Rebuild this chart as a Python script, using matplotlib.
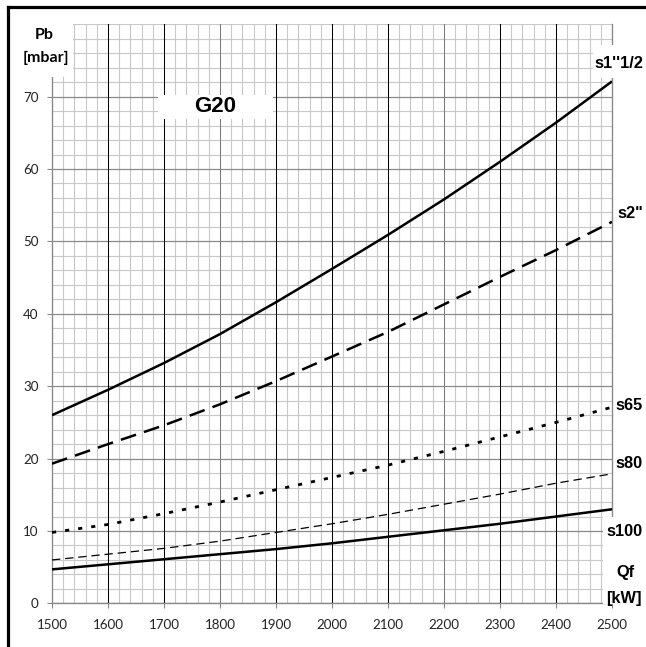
import matplotlib
matplotlib.use("Agg")
import matplotlib.pyplot as plt
from matplotlib.ticker import MultipleLocator, FixedLocator
from matplotlib.patches import Rectangle
from matplotlib.lines import Line2D

plt.rcParams['lines.scale_dashes'] = False

# ---- data ----
qf = [1500, 1600, 1700, 1800, 1900, 2000, 2100, 2200, 2300, 2400, 2500]
s1_12 = [26.0, 29.5, 33.2, 37.2, 41.6, 46.2, 50.9, 55.8, 61.0, 66.4, 72.1]
s2 = [19.3, 22.0, 24.6, 27.5, 30.7, 34.1, 37.5, 41.3, 45.1, 48.8, 52.7]
s65 = [9.8, 10.9, 12.4, 14.0, 15.7, 17.4, 19.1, 21.0, 23.0, 25.0, 27.1]
s80 = [6.0, 6.8, 7.6, 8.6, 9.8, 11.0, 12.3, 13.7, 15.1, 16.6, 17.9]
s100 = [4.7, 5.4, 6.1, 6.8, 7.5, 8.3, 9.2, 10.1, 11.0, 12.0, 13.0]
x_ticks = [1500, 1600, 1700, 1800, 1900, 2000, 2100, 2200, 2300, 2400, 2500]
y_ticks = [0, 10, 20, 30, 40, 50, 60, 70]
series_labels = ["s1''1/2", 's2"', "s65", "s80", "s100"]

W, H = 646, 647
fig = plt.figure(figsize=(W / 100, H / 100), dpi=100)


def fx(px):
    return px / W


def fy(py):
    return 1 - py / H


ax = fig.add_axes([fx(52), fy(603.4), fx(612) - fx(52), fy(24.2) - fy(603.4)])
ax.set_xlim(1500, 2500)
ax.set_ylim(0, 80)

# grids
ax.xaxis.set_major_locator(FixedLocator(x_ticks))
ax.yaxis.set_major_locator(FixedLocator(y_ticks))
ax.xaxis.set_minor_locator(MultipleLocator(20))
ax.yaxis.set_minor_locator(MultipleLocator(2))
ax.grid(which='minor', color='#c8c8c8', linewidth=0.8)
ax.grid(which='major', axis='y', color='#8a8a8a', linewidth=0.9)
for xv in x_ticks[1:-1]:
    col = '#7a7a7a' if xv in (1800, 2200) else '#000000'
    ax.axvline(xv, color=col, linewidth=0.75, zorder=0.9)
ax.set_axisbelow(True)

for side in ['left', 'bottom', 'right']:
    ax.spines[side].set_color('#8a8a8a')
    ax.spines[side].set_linewidth(1.0)
ax.spines['top'].set_visible(False)

ax.tick_params(which='major', length=3.5, color='#8a8a8a', labelsize=9.6,
               labelcolor='#222222')
ax.tick_params(which='minor', length=0)
ax.set_xticklabels([str(v) for v in x_ticks], fontfamily='Lato')
ax.set_yticklabels([str(v) for v in y_ticks], fontfamily='Lato')
ax.tick_params(axis='x', pad=8)
ax.tick_params(axis='y', pad=6)

# curves
ax.plot(qf, s1_12, color='black', linewidth=1.8, solid_capstyle='butt', zorder=3)
ax.plot(qf, s2, color='black', linewidth=1.8, linestyle=(0, (11.5, 6)), zorder=3)
ax.plot(qf, s65, color='black', linewidth=2.0, linestyle=(0, (3.0, 6.5)), zorder=3)
ax.plot(qf, s80, color='black', linewidth=0.9, linestyle=(0, (6, 3.5)), zorder=3)
ax.plot(qf, s100, color='black', linewidth=1.8, zorder=3)

# white cover boxes (figure-level, drawn above axes)
def white_box(x0, y0, x1, y1):
    fig.patches.append(Rectangle((fx(x0), fy(y1)), fx(x1) - fx(x0), fy(y0) - fy(y1),
                                 transform=fig.transFigure, facecolor='white',
                                 edgecolor='none', zorder=1))

white_box(9, 8, 73, 77)
white_box(593, 45, 646, 78)
white_box(603, 517, 646, 604)
white_box(158, 95, 273, 119)

# labels
lab = dict(transform=fig.transFigure, fontfamily='Liberation Sans',
           fontweight='bold', fontsize=11.8, va='center', zorder=4)
fig.text(fx(643), fy(63), series_labels[0], ha='right', **lab)
fig.text(fx(643), fy(213), series_labels[1], ha='right', **lab)
fig.text(fx(643), fy(406), series_labels[2], ha='right', **lab)
fig.text(fx(643), fy(463), series_labels[3], ha='right', **lab)
fig.text(fx(643), fy(532), series_labels[4], ha='right', **lab)
fig.text(fx(625), fy(573), 'Qf', ha='center', **lab)
fig.text(fx(624), fy(599), '[kW]', ha='center', **lab)
fig.text(fx(215.5), fy(107), 'G20', ha='center', va='center',
         transform=fig.transFigure, fontfamily='Liberation Sans',
         fontweight='bold', fontsize=16, zorder=4)

plab = dict(transform=fig.transFigure, fontfamily='Lato', fontweight='bold',
            fontsize=11.5, va='center', ha='center', zorder=4)
fig.text(fx(44), fy(35), 'Pb', **plab)
fig.text(fx(46), fy(58), '[mbar]', **plab)

# outer frame (top and left edges)
fig.lines.append(Line2D([fx(8), fx(660)], [fy(6.5), fy(6.5)], transform=fig.transFigure,
                        color='black', linewidth=2.3, zorder=5))
fig.lines.append(Line2D([fx(8), fx(8)], [fy(6.5), fy(660)], transform=fig.transFigure,
                        color='black', linewidth=2.3, zorder=5))

fig.savefig('out.png', dpi=100)
